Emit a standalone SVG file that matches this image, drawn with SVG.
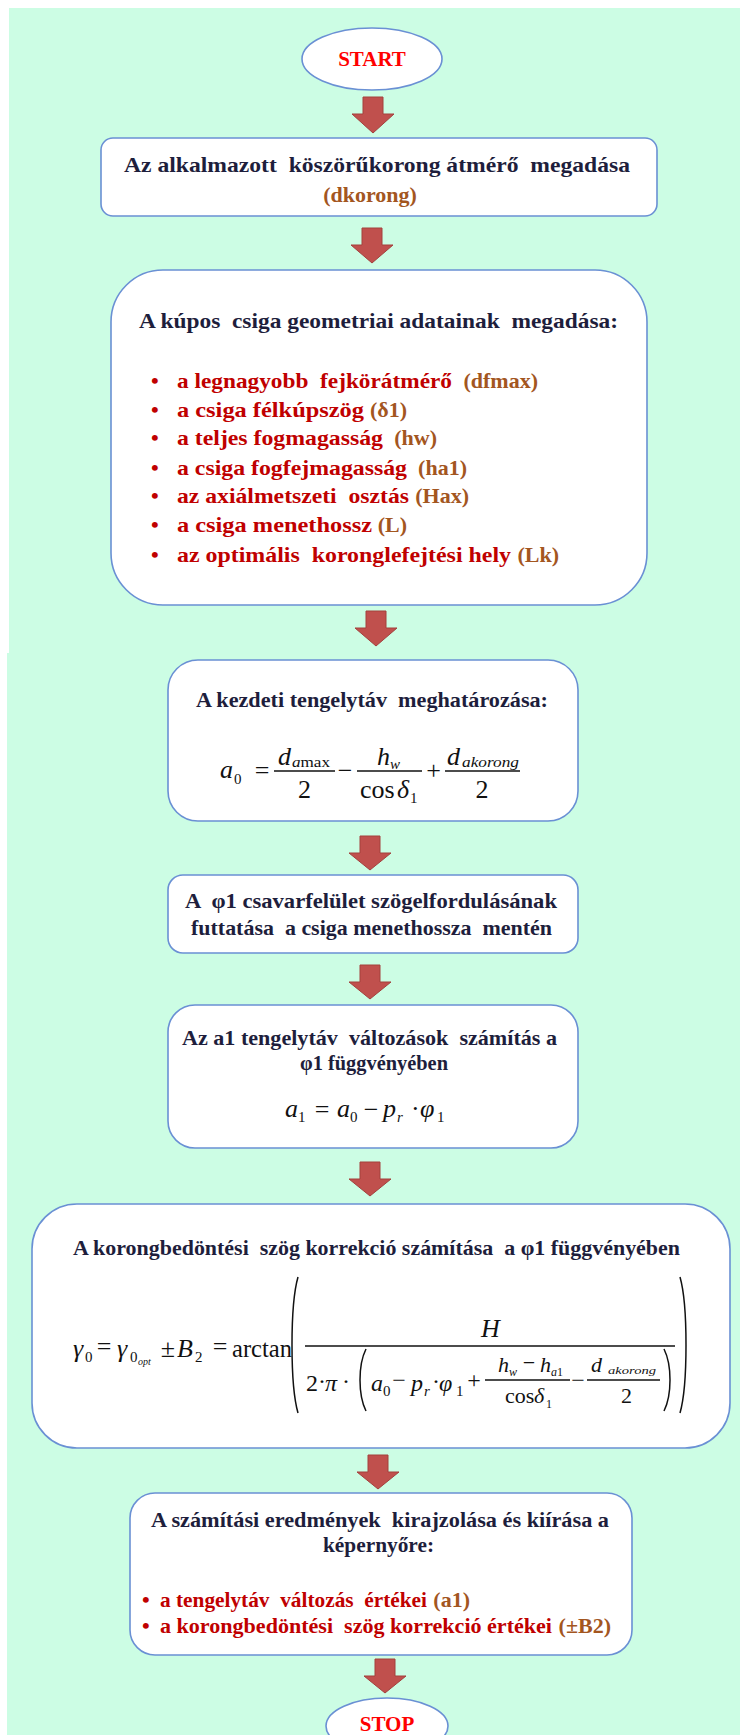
<svg xmlns="http://www.w3.org/2000/svg" width="740" height="1735" viewBox="0 0 740 1735">
<style>
.bg{fill:#CCFDE4}
.box{fill:#fff;stroke:#6A90D4;stroke-width:1.6}
.arr{fill:#C0504D;stroke:#A3403D;stroke-width:1}
.t{font-family:"Liberation Serif","Times New Roman",serif;font-weight:bold;font-size:22px;fill:#1E1E3C}
.se{fill:#FF0000;font-size:21px}
.rd{fill:#C00000}
.br{fill:#A3561F}
.m{font-family:"Liberation Serif","Times New Roman",serif;font-size:26px;font-style:italic;fill:#111}
.d{font-size:24px}
.n{font-size:22px}
.up{font-style:normal}
.s{font-size:15px}
.xs{font-size:12px}
.ss{font-size:10px}
.ln{stroke:#111;stroke-width:1.3}
.par{fill:none;stroke:#111;stroke-width:1.5}
</style>
<rect x="0" y="0" width="740" height="1735" fill="#fff"/>
<rect class="bg" x="9" y="8" width="731" height="646"/>
<rect class="bg" x="7" y="653" width="733" height="1082"/>

<g id="connectors">
<polygon class="arr" points="363,97 383,97 383,114 394,114 373,133 352,114 363,114"/>
<polygon class="arr" points="362,228 382,228 382,245 393,245 372,263 351,245 362,245"/>
<polygon class="arr" points="366,611 386,611 386,628 397,628 376,646 355,628 366,628"/>
<polygon class="arr" points="360,836 380,836 380,853 391,853 370,870 349,853 360,853"/>
<polygon class="arr" points="360,965 380,965 380,982 391,982 370,999 349,982 360,982"/>
<polygon class="arr" points="360,1162 380,1162 380,1179 391,1179 370,1196 349,1179 360,1179"/>
<polygon class="arr" points="368,1455 388,1455 388,1472 399,1472 378,1489 357,1472 368,1472"/>
<polygon class="arr" points="375,1659 395,1659 395,1676 406,1676 385,1693 364,1676 375,1676"/>
</g>

<g id="start">
<ellipse class="box" cx="372" cy="59" rx="70" ry="31"/>
<text class="t se" x="372" y="66" text-anchor="middle">START</text>
</g>

<g id="box1">
<rect class="box" x="101" y="138" width="556" height="78" rx="12"/>
<text class="t" x="377" y="172" text-anchor="middle" xml:space="preserve" textLength="506" lengthAdjust="spacingAndGlyphs">Az alkalmazott  köszörűkorong átmérő  megadása</text>
<text class="t br" x="370" y="202" text-anchor="middle">(dkorong)</text>
</g>

<g id="box2">
<rect class="box" x="111" y="270" width="536" height="335" rx="52"/>
<text class="t" x="378.5" y="328" text-anchor="middle" xml:space="preserve" textLength="479" lengthAdjust="spacingAndGlyphs">A kúpos  csiga geometriai adatainak  megadása:</text>
<g class="t rd">
<text x="151" y="388">•</text>
<text x="151" y="417">•</text>
<text x="151" y="445">•</text>
<text x="151" y="475">•</text>
<text x="151" y="503">•</text>
<text x="151" y="532">•</text>
<text x="151" y="562">•</text>
</g>
<g class="t rd">
<text x="177" y="388" xml:space="preserve" textLength="275" lengthAdjust="spacingAndGlyphs">a legnagyobb  fejkörátmérő</text>
<text x="177" y="417" textLength="187" lengthAdjust="spacingAndGlyphs">a csiga félkúpszög</text>
<text x="177" y="445" textLength="206" lengthAdjust="spacingAndGlyphs">a teljes fogmagasság</text>
<text x="177" y="475" textLength="230" lengthAdjust="spacingAndGlyphs">a csiga fogfejmagasság</text>
<text x="177" y="503" xml:space="preserve" textLength="232" lengthAdjust="spacingAndGlyphs">az axiálmetszeti  osztás</text>
<text x="177" y="532" textLength="195" lengthAdjust="spacingAndGlyphs">a csiga menethossz</text>
<text x="177" y="562" xml:space="preserve" textLength="334" lengthAdjust="spacingAndGlyphs">az optimális  koronglefejtési hely</text>
</g>
<g class="t br" text-anchor="end">
<text x="538" y="388">(dfmax)</text>
<text x="407" y="417">(δ1)</text>
<text x="437" y="445">(hw)</text>
<text x="467" y="475">(ha1)</text>
<text x="469" y="503">(Hax)</text>
<text x="407" y="532">(L)</text>
<text x="559" y="562">(Lk)</text>
</g>
</g>

<g id="box3">
<rect class="box" x="168" y="660" width="410" height="161" rx="30"/>
<text class="t" x="372" y="707" text-anchor="middle" xml:space="preserve" textLength="352" lengthAdjust="spacingAndGlyphs">A kezdeti tengelytáv  meghatározása:</text>
<text class="m" x="220" y="778">a</text>
<text class="m up s" x="234" y="784">0</text>
<text class="m up" x="262" y="779" text-anchor="middle">=</text>
<line class="ln" x1="274" y1="771" x2="335" y2="771"/>
<text class="m" x="278" y="765">d</text>
<text class="m s" x="292" y="767" textLength="38" lengthAdjust="spacingAndGlyphs">a<tspan class="up">max</tspan></text>
<text class="m up" x="304.5" y="798" text-anchor="middle">2</text>
<text class="m up" x="345" y="779" text-anchor="middle">−</text>
<line class="ln" x1="357" y1="771" x2="422" y2="771"/>
<text class="m" x="377" y="765">h</text>
<text class="m s" x="390" y="769">w</text>
<text class="m up" x="360" y="798">cos</text>
<text class="m" x="397" y="798">δ</text>
<text class="m up s" x="410" y="803">1</text>
<text class="m up" x="433.5" y="779" text-anchor="middle">+</text>
<line class="ln" x1="445" y1="771" x2="520" y2="771"/>
<text class="m" x="447" y="765">d</text>
<text class="m s" x="462" y="767" textLength="57" lengthAdjust="spacingAndGlyphs">akorong</text>
<text class="m up" x="482" y="798" text-anchor="middle">2</text>
</g>

<g id="box4">
<rect class="box" x="168" y="875" width="410" height="78" rx="15"/>
<text class="t" x="371" y="908" text-anchor="middle" xml:space="preserve" textLength="372" lengthAdjust="spacingAndGlyphs">A  φ1 csavarfelület szögelfordulásának</text>
<text class="t" x="371.5" y="935" text-anchor="middle" xml:space="preserve" textLength="361" lengthAdjust="spacingAndGlyphs">futtatása  a csiga menethossza  mentén</text>
</g>

<g id="box5">
<rect class="box" x="168" y="1005" width="410" height="143" rx="27"/>
<text class="t" x="369.5" y="1045" text-anchor="middle" xml:space="preserve" textLength="375" lengthAdjust="spacingAndGlyphs">Az a1 tengelytáv  változások  számítás a</text>
<text class="t" x="374" y="1070" text-anchor="middle" textLength="148" lengthAdjust="spacingAndGlyphs">φ1 függvényében</text>
<text class="m" x="285" y="1117">a</text>
<text class="m up s" x="298" y="1122">1</text>
<text class="m up" x="322" y="1118" text-anchor="middle">=</text>
<text class="m" x="337" y="1117">a</text>
<text class="m up s" x="350" y="1122">0</text>
<text class="m up" x="371" y="1118" text-anchor="middle">−</text>
<text class="m" x="383" y="1117">p</text>
<text class="m s" x="397" y="1122">r</text>
<text class="m up" x="411" y="1117">·</text>
<text class="m" x="420" y="1117">φ</text>
<text class="m up s" x="437" y="1122">1</text>
</g>

<g id="box6">
<rect class="box" x="32" y="1204" width="698" height="244" rx="45"/>
<text class="t" x="376.5" y="1255" text-anchor="middle" xml:space="preserve" textLength="607" lengthAdjust="spacingAndGlyphs">A korongbedöntési  szög korrekció számítása  a φ1 függvényében</text>
<text class="m" x="73" y="1357">γ</text>
<text class="m up s" x="85" y="1362">0</text>
<text class="m up" x="104" y="1355" text-anchor="middle">=</text>
<text class="m" x="117" y="1357">γ</text>
<text class="m up s" x="130" y="1362">0</text>
<text class="m ss" x="138" y="1365">opt</text>
<text class="m up" x="168" y="1357" text-anchor="middle">±</text>
<text class="m" x="177" y="1357">B</text>
<text class="m up s" x="195" y="1362">2</text>
<text class="m up" x="220" y="1355" text-anchor="middle">=</text>
<text class="m up" x="232" y="1357" textLength="60" lengthAdjust="spacingAndGlyphs">arctan</text>
<path class="par" d="M298,1277 C290,1305 290,1385 298,1413"/>
<line class="ln" x1="305" y1="1346" x2="675" y2="1346"/>
<text class="m" x="481" y="1337">H</text>
<text class="m d up" x="306" y="1391">2</text>
<text class="m d up" x="318" y="1389">·</text>
<text class="m d" x="325" y="1391">π</text>
<text class="m d up" x="342" y="1389">·</text>
<path class="par" d="M366,1349 C358,1365 358,1395 366,1411"/>
<text class="m d" x="371" y="1391">a</text>
<text class="m up s" x="383" y="1396">0</text>
<text class="m d up" x="399" y="1388" text-anchor="middle">−</text>
<text class="m d" x="411" y="1391">p</text>
<text class="m s" x="424" y="1396">r</text>
<text class="m d up" x="432" y="1389">·</text>
<text class="m d" x="439" y="1391">φ</text>
<text class="m up s" x="456" y="1396">1</text>
<text class="m d up" x="474" y="1388" text-anchor="middle">+</text>
<line class="ln" x1="485" y1="1380" x2="570" y2="1380"/>
<text class="m n" x="498" y="1372">h</text>
<text class="m xs" x="509" y="1376">w</text>
<text class="m n up" x="529" y="1370" text-anchor="middle">−</text>
<text class="m n" x="540" y="1372">h</text>
<text class="m xs" x="551" y="1376">a<tspan class="up">1</tspan></text>
<text class="m n up" x="505" y="1403">cos</text>
<text class="m n" x="534" y="1403">δ</text>
<text class="m up xs" x="546" y="1408">1</text>
<text class="m d up" x="578" y="1388" text-anchor="middle">−</text>
<line class="ln" x1="587" y1="1380" x2="660" y2="1380"/>
<text class="m n" x="591" y="1372">d</text>
<text class="m ss" x="608" y="1374" textLength="48" lengthAdjust="spacingAndGlyphs">akorong</text>
<text class="m n up" x="626.5" y="1403" text-anchor="middle">2</text>
<path class="par" d="M664,1349 C672,1365 672,1395 664,1411"/>
<path class="par" d="M680,1277 C688,1305 688,1385 680,1413"/>
</g>

<g id="box7">
<rect class="box" x="130" y="1493" width="502" height="162" rx="25"/>
<text class="t" x="380" y="1527" text-anchor="middle" xml:space="preserve" textLength="458" lengthAdjust="spacingAndGlyphs">A számítási eredmények  kirajzolása és kiírása a</text>
<text class="t" x="378.5" y="1552" text-anchor="middle" textLength="111" lengthAdjust="spacingAndGlyphs">képernyőre:</text>
<text class="t rd" x="142" y="1607">•</text>
<text class="t rd" x="142" y="1633">•</text>
<text class="t rd" x="160" y="1607" xml:space="preserve" textLength="267" lengthAdjust="spacingAndGlyphs">a tengelytáv  változás  értékei</text>
<text class="t rd" x="160" y="1633" xml:space="preserve" textLength="392" lengthAdjust="spacingAndGlyphs">a korongbedöntési  szög korrekció értékei</text>
<text class="t br" x="470" y="1607" text-anchor="end">(a1)</text>
<text class="t br" x="611" y="1633" text-anchor="end">(±B2)</text>
</g>

<g id="stop">
<ellipse class="box" cx="387" cy="1726" rx="61" ry="28"/>
<text class="t se" x="387" y="1731" text-anchor="middle">STOP</text>
</g>
</svg>
